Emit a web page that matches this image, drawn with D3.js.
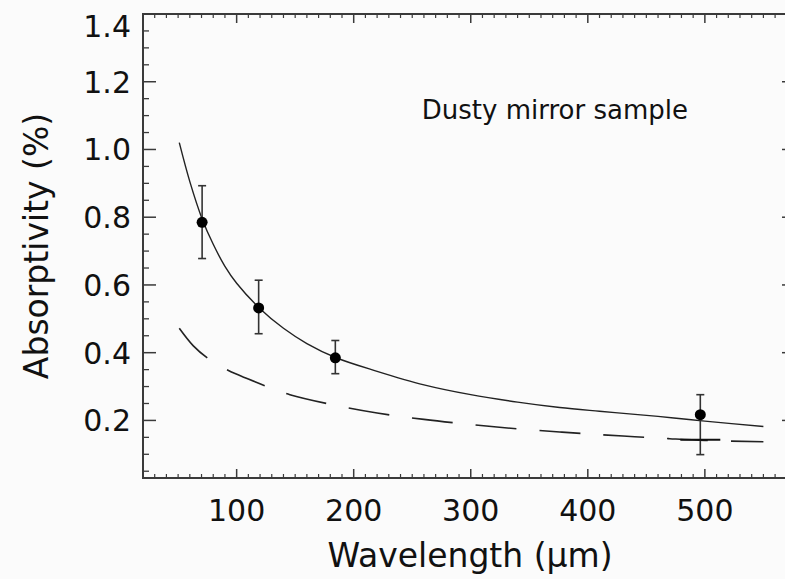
<!DOCTYPE html>
<html>
<head>
<meta charset="utf-8">
<script src="https://cdn.jsdelivr.net/npm/d3@7"></script>
<style>
  body { margin: 0; background: #fbfbfb; }
  svg { display: block; }
  text { font-family: "DejaVu Sans", sans-serif; fill: #111; }
</style>
</head>
<body>
<svg id="chart" width="785" height="579"></svg>
<script>
// Measured points (wavelength in um, absorptivity in %)
const wavelengths = [70.5, 118.8, 184.3, 496.1];
const absorptivity = [0.785, 0.532, 0.385, 0.217];
const errLow = [0.678, 0.456, 0.338, 0.099];
const errHigh = [0.893, 0.614, 0.436, 0.276];

// Extra "+" mark at 496 um
const plusWl = [496.1];
const plusVal = [0.143];

// Solid curve
const solidWl = [51, 60, 70.5, 80, 90, 100, 120, 140, 160, 185, 220, 260, 300, 340, 376, 410, 433, 460, 480, 500, 550];
const solidVal = [1.02, 0.905, 0.795, 0.72, 0.655, 0.605, 0.53, 0.472, 0.427, 0.385, 0.345, 0.305, 0.276, 0.254, 0.238, 0.227, 0.22, 0.212, 0.205, 0.198, 0.182];

// Dashed curve
const dashWl = [51, 63, 75.5, 92.6, 110, 126, 145.5, 177, 220, 260, 300, 340, 376, 410, 440, 470, 500, 550];
const dashVal = [0.472, 0.42, 0.383, 0.348, 0.322, 0.3, 0.276, 0.25, 0.222, 0.203, 0.188, 0.175, 0.166, 0.158, 0.152, 0.146, 0.141, 0.137];

const xTicks = [100, 200, 300, 400, 500];
const yTicks = [0.2, 0.4, 0.6, 0.8, 1.0, 1.2, 1.4];

// Plot frame (right side falls just outside the picture)
const frameL = 143, frameR = 795, frameT = 14, frameB = 478;

const svg = d3.select("#chart");

const x = d3.scaleLinear().domain([20, 577]).range([frameL, frameR]);
const y = d3.scaleLinear().domain([0.03, 1.4]).range([frameB, frameT]);

const axisColor = "#3a3a3a";

// Minor tick values
const xMinor = d3.range(30, 577, 10).filter(v => v % 100 !== 0);
const yMinor = d3.range(0.05, 1.4, 0.05).filter(v => Math.abs(v * 5 - Math.round(v * 5)) > 1e-6);

// Frame
svg.append("rect")
    .attr("x", frameL).attr("y", frameT)
    .attr("width", frameR - frameL).attr("height", frameB - frameT)
    .attr("fill", "none")
    .attr("stroke", axisColor)
    .attr("stroke-width", 2);

// X ticks (bottom and top, inward)
function xTickLines(vals, len, sw) {
    svg.append("g").selectAll("line").data(vals).join("line")
        .attr("x1", d => x(d)).attr("x2", d => x(d))
        .attr("y1", frameB).attr("y2", frameB - len)
        .attr("stroke", axisColor).attr("stroke-width", sw);
    svg.append("g").selectAll("line").data(vals).join("line")
        .attr("x1", d => x(d)).attr("x2", d => x(d))
        .attr("y1", frameT).attr("y2", frameT + len)
        .attr("stroke", axisColor).attr("stroke-width", sw);
}
xTickLines(xTicks, 9, 1.5);
xTickLines(xMinor, 4, 1.2);

// Y ticks (left and right, inward)
function yTickLines(vals, len, sw) {
    svg.append("g").selectAll("line").data(vals).join("line")
        .attr("x1", frameL).attr("x2", frameL + len)
        .attr("y1", d => y(d)).attr("y2", d => y(d))
        .attr("stroke", axisColor).attr("stroke-width", sw);
    svg.append("g").selectAll("line").data(vals).join("line")
        .attr("x1", frameR).attr("x2", frameR - len)
        .attr("y1", d => y(d)).attr("y2", d => y(d))
        .attr("stroke", axisColor).attr("stroke-width", sw);
}
yTickLines(yTicks, 13, 1.5);
yTickLines(yMinor, 6, 1.3);

// Tick labels
svg.append("g").selectAll("text").data(xTicks).join("text")
    .attr("x", d => x(d)).attr("y", 521)
    .attr("text-anchor", "middle")
    .attr("font-size", 30)
    .text(d => d);

svg.append("g").selectAll("text").data(yTicks).join("text")
    .attr("x", 131).attr("y", d => Math.max(y(d) + 11, 37))
    .attr("text-anchor", "end")
    .attr("font-size", 30)
    .text(d => d3.format(".1f")(d));

// Axis titles
svg.append("text")
    .attr("x", 470).attr("y", 567)
    .attr("text-anchor", "middle")
    .attr("font-size", 33)
    .text("Wavelength (\u00b5m)");

svg.append("text")
    .attr("transform", `translate(48,${(frameT + frameB) / 2}) rotate(-90)`)
    .attr("text-anchor", "middle")
    .attr("font-size", 33)
    .text("Absorptivity (%)");

svg.append("text")
    .attr("x", 688).attr("y", 119)
    .attr("text-anchor", "end")
    .attr("font-size", 26)
    .text("Dusty mirror sample");

// Curves
const line = d3.line().x(d => x(d[0])).y(d => y(d[1])).curve(d3.curveCatmullRom.alpha(0.5));

svg.append("path")
    .datum(d3.zip(solidWl, solidVal))
    .attr("d", line)
    .attr("fill", "none")
    .attr("stroke", "#222")
    .attr("stroke-width", 1.4);

svg.append("path")
    .datum(d3.zip(dashWl, dashVal))
    .attr("d", line)
    .attr("fill", "none")
    .attr("stroke", "#222")
    .attr("stroke-width", 1.6)
    .attr("stroke-dasharray", "41,23");

// Error bars
const pts = wavelengths.map((w, i) => ({ w, v: absorptivity[i], lo: errLow[i], hi: errHigh[i] }));
const eb = svg.append("g").attr("stroke", "#333").attr("stroke-width", 1.6);
eb.selectAll(".stem").data(pts).join("line")
    .attr("x1", d => x(d.w)).attr("x2", d => x(d.w))
    .attr("y1", d => y(d.lo)).attr("y2", d => y(d.hi));
eb.selectAll(".capHi").data(pts).join("line")
    .attr("x1", d => x(d.w) - 4).attr("x2", d => x(d.w) + 4)
    .attr("y1", d => y(d.hi)).attr("y2", d => y(d.hi));
eb.selectAll(".capLo").data(pts).join("line")
    .attr("x1", d => x(d.w) - 4).attr("x2", d => x(d.w) + 4)
    .attr("y1", d => y(d.lo)).attr("y2", d => y(d.lo));

// "+" mark
svg.append("g").selectAll("line").data(d3.zip(plusWl, plusVal)).join("line")
    .attr("x1", d => x(d[0]) - 20).attr("x2", d => x(d[0]) + 20)
    .attr("y1", d => y(d[1])).attr("y2", d => y(d[1]))
    .attr("stroke", "#111").attr("stroke-width", 1.8);

// Points
svg.append("g").selectAll("circle").data(pts).join("circle")
    .attr("cx", d => x(d.w)).attr("cy", d => y(d.v))
    .attr("r", 5.5)
    .attr("fill", "#000");
</script>
</body>
</html>
